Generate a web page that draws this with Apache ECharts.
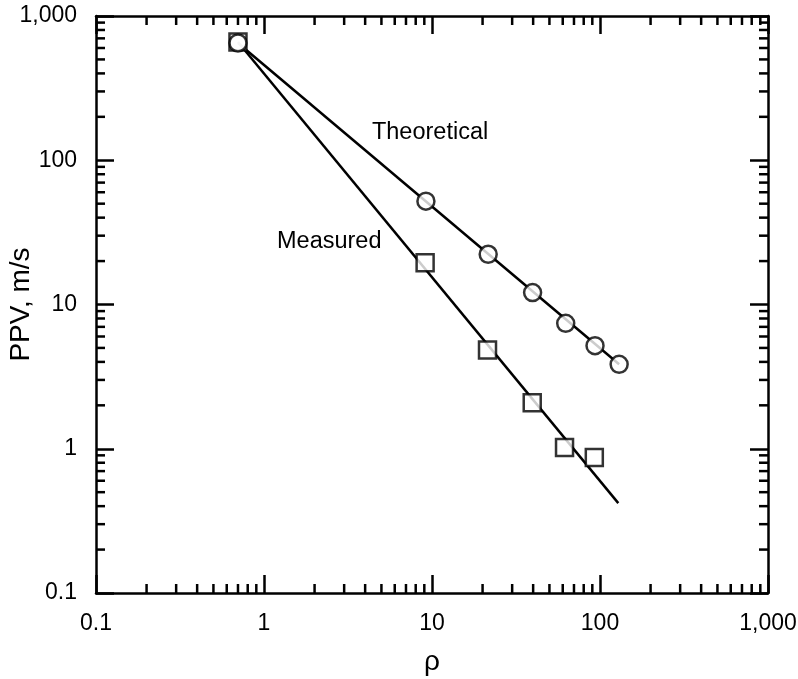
<!DOCTYPE html>
<html>
<head>
<meta charset="utf-8">
<script src="https://cdn.jsdelivr.net/npm/echarts@6/dist/echarts.min.js"></script>
<style>html,body{margin:0;padding:0;background:#fff}#c{width:798px;height:679px}</style>
</head>
<body>
<div id="c"></div>
<script>
// ---- data ----
const theoX = [0.7, 9.2, 21.6, 39.7, 62.5, 93.4, 130];
const theoY = [650, 52, 22.3, 12.1, 7.41, 5.18, 3.85];
const measX = [0.7, 9.1, 21.4, 39.5, 61.5, 92.5];
const measY = [660, 19.5, 4.84, 2.08, 1.02, 0.87];
const theoFitX = [0.7, 130];
const theoFitY = [650, 3.85];
const measFitX = [0.7, 128.5];
const measFitY = [660, 0.42];
const xTickLabels = ['0.1', '1', '10', '100', '1,000'];
const yTickLabels = ['0.1', '1', '10', '100', '1,000'];
const minorMult = [2, 3, 4, 5, 6, 7, 8, 9];
const decades = [0.1, 1, 10, 100];
const labelTheo = {text: 'Theoretical', x: 4.39, y: 155};
const labelMeas = {text: 'Measured', x: 1.195, y: 27.5};

const X_MIN = 0.1, X_MAX = 1000, Y_MIN = 0.1, Y_MAX = 1000;
const FONT = '"Liberation Sans", Arial, sans-serif';
const LW = 2.5;

function zip(a, b) { return a.map((v, i) => [v, b[i]]); }
function fmt(labels) {
  return function (v) { const i = Math.round(Math.log10(v)) + 1; return labels[i] !== undefined ? labels[i] : ''; };
}

const minorData = [];
decades.forEach(d => minorMult.forEach(m => {
  minorData.push([m * d, 1, 0]);
  minorData.push([1, m * d, 1]);
}));

const chart = echarts.init(document.getElementById('c'), null, {renderer: 'canvas'});

const axisLineStyle = {show: true, lineStyle: {color: '#000', width: LW}};
const majorTick = {show: true, inside: true, length: 18, lineStyle: {color: '#000', width: LW}};

chart.setOption({
  animation: false,
  backgroundColor: '#fff',
  grid: {left: 96, right: 30, top: 16, bottom: 86, containLabel: false, outerBoundsMode: 'none'},
  xAxis: [
    {
      type: 'log', logBase: 10, min: X_MIN, max: X_MAX, position: 'bottom',
      axisLine: axisLineStyle, axisTick: majorTick, splitLine: {show: false},
      axisLabel: {color: '#000', fontSize: 23, fontFamily: FONT, margin: 19, formatter: fmt(xTickLabels)},
      name: 'ρ', nameLocation: 'middle', nameGap: 55, nameMoveOverlap: false,
      nameTextStyle: {color: '#000', fontSize: 28, fontFamily: FONT}
    },
    {
      type: 'log', logBase: 10, min: X_MIN, max: X_MAX, position: 'top',
      axisLine: axisLineStyle, axisTick: majorTick, splitLine: {show: false},
      axisLabel: {show: false}
    }
  ],
  yAxis: [
    {
      type: 'log', logBase: 10, min: Y_MIN, max: Y_MAX, position: 'left',
      axisLine: axisLineStyle, axisTick: majorTick, splitLine: {show: false},
      axisLabel: {color: '#000', fontSize: 23, fontFamily: FONT, margin: 19, formatter: fmt(yTickLabels)},
      name: 'PPV, m/s', nameLocation: 'middle', nameGap: 61, nameRotate: 90, nameMoveOverlap: false,
      nameTextStyle: {color: '#000', fontSize: 28, fontFamily: FONT}
    },
    {
      type: 'log', logBase: 10, min: Y_MIN, max: Y_MAX, position: 'right',
      axisLine: axisLineStyle, axisTick: majorTick, splitLine: {show: false},
      axisLabel: {show: false}
    }
  ],
  series: [
    {
      type: 'custom', name: 'minorTicks', clip: false, silent: true,
      xAxisIndex: 0, yAxisIndex: 0,
      encode: {x: 0, y: 1},
      data: minorData,
      renderItem: function (params, api) {
        const kind = api.value(2);
        const L = 9;
        const st = {stroke: '#000', lineWidth: LW};
        if (kind === 0) {
          const v = api.value(0);
          const b = api.coord([v, Y_MIN]);
          const t = api.coord([v, Y_MAX]);
          return {type: 'group', children: [
            {type: 'line', shape: {x1: b[0], y1: b[1], x2: b[0], y2: b[1] - L}, style: st},
            {type: 'line', shape: {x1: t[0], y1: t[1], x2: t[0], y2: t[1] + L}, style: st}
          ]};
        } else {
          const v = api.value(1);
          const l = api.coord([X_MIN, v]);
          const r = api.coord([X_MAX, v]);
          return {type: 'group', children: [
            {type: 'line', shape: {x1: l[0], y1: l[1], x2: l[0] + L, y2: l[1]}, style: st},
            {type: 'line', shape: {x1: r[0], y1: r[1], x2: r[0] - L, y2: r[1]}, style: st}
          ]};
        }
      },
      z: 3
    },
    {
      type: 'line', name: 'Theoretical fit', data: zip(theoFitX, theoFitY),
      symbol: 'none', lineStyle: {color: '#000', width: LW}, z: 2, silent: true
    },
    {
      type: 'line', name: 'Measured fit', data: zip(measFitX, measFitY),
      symbol: 'none', lineStyle: {color: '#000', width: LW}, z: 2, silent: true
    },
    {
      type: 'scatter', name: 'Measured', data: zip(measX, measY),
      symbol: 'rect', symbolSize: 17,
      itemStyle: {color: '#fff', borderColor: '#000', borderWidth: LW}, z: 4, silent: true
    },
    {
      type: 'scatter', name: 'Theoretical', data: zip(theoX, theoY),
      symbol: 'circle', symbolSize: 17,
      itemStyle: {color: '#fff', borderColor: '#000', borderWidth: LW}, z: 5, silent: true
    }
  ]
});

const pT = chart.convertToPixel({gridIndex: 0}, [labelTheo.x, labelTheo.y]);
const pM = chart.convertToPixel({gridIndex: 0}, [labelMeas.x, labelMeas.y]);
chart.setOption({
  graphic: [
    {type: 'text', x: pT[0], y: pT[1], z: 10, style: {text: labelTheo.text, font: '23.5px ' + FONT, fill: '#000', align: 'left', verticalAlign: 'middle'}},
    {type: 'text', x: pM[0], y: pM[1], z: 10, style: {text: labelMeas.text, font: '23.5px ' + FONT, fill: '#000', align: 'left', verticalAlign: 'middle'}}
  ]
});
</script>
</body>
</html>
